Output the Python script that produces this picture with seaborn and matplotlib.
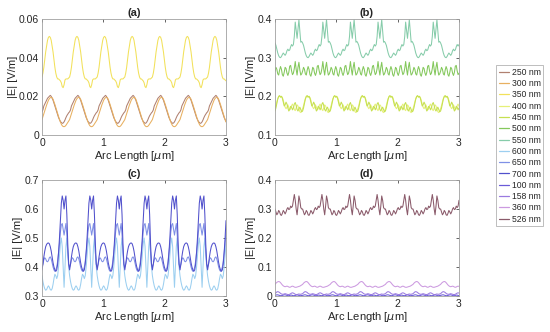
import numpy as np
import pandas as pd
import matplotlib
matplotlib.use("Agg")
import matplotlib.pyplot as plt
import seaborn as sns
from matplotlib.lines import Line2D

sns.set_theme(style="white")
plt.rcParams['font.family'] = ['Liberation Sans', 'DejaVu Sans']

# ---- data: one spatial period (0.45 um, step 0.015 um) per wavelength ----
dx = 0.015
n_points = 201  # 0 .. 3.0 um

labels = ["250 nm", "300 nm", "350 nm", "400 nm", "450 nm", "500 nm", "550 nm",
          "600 nm", "650 nm", "700 nm", "100 nm", "158 nm", "360 nm", "526 nm"]
colors = ["#b08070", "#e8b060", "#f2e15a", "#e6f078", "#c6e050", "#84c85c", "#86ccaa",
          "#9ccff0", "#7f90e6", "#5050cc", "#6a5ad8", "#9a7ae0", "#cc9ae0", "#8a5a6a"]
panel_of = ["a", "a", "a", "b", "b", "b", "b", "c", "c", "c", "d", "d", "d", "d"]

p250 = [0.012, 0.013, 0.015, 0.016, 0.017, 0.018, 0.019, 0.0195, 0.020, 0.0205, 0.020, 0.019,
        0.018, 0.0165, 0.015, 0.0135, 0.012, 0.0105, 0.009, 0.008, 0.007, 0.0065, 0.006, 0.0062,
        0.0068, 0.0078, 0.009, 0.010, 0.0108, 0.0115]
p300 = [0.008, 0.0095, 0.011, 0.0125, 0.014, 0.0155, 0.0168, 0.018, 0.0188, 0.0193, 0.0195, 0.0193,
        0.0185, 0.0172, 0.0158, 0.0142, 0.0126, 0.011, 0.0094, 0.008, 0.0067, 0.0056, 0.0048, 0.0044,
        0.0043, 0.0045, 0.0050, 0.0057, 0.0064, 0.0072]
p350 = [0.030, 0.032, 0.035, 0.039, 0.043, 0.046, 0.049, 0.0505, 0.051, 0.0505, 0.049, 0.046,
        0.043, 0.039, 0.035, 0.032, 0.030, 0.029, 0.029, 0.0285, 0.028, 0.027, 0.025, 0.0245,
        0.026, 0.0285, 0.029, 0.029, 0.029, 0.0295]
p400 = [0.168, 0.176, 0.186, 0.194, 0.199, 0.200, 0.198, 0.200, 0.197, 0.190, 0.180, 0.172,
        0.168, 0.172, 0.178, 0.172, 0.165, 0.168, 0.176, 0.180, 0.174, 0.166, 0.163, 0.170,
        0.178, 0.175, 0.168, 0.160, 0.158, 0.162]
p450 = [0.162, 0.170, 0.182, 0.193, 0.200, 0.202, 0.198, 0.200, 0.195, 0.185, 0.175, 0.178,
        0.185, 0.180, 0.170, 0.162, 0.166, 0.174, 0.172, 0.165, 0.170, 0.180, 0.184, 0.176,
        0.166, 0.162, 0.168, 0.172, 0.166, 0.160]
p500 = [0.265, 0.275, 0.270, 0.258, 0.255, 0.268, 0.277, 0.270, 0.256, 0.252, 0.262, 0.275,
        0.272, 0.260, 0.254, 0.262, 0.278, 0.280, 0.266, 0.256, 0.260, 0.272, 0.290, 0.270,
        0.255, 0.275, 0.288, 0.268, 0.255, 0.258]
p550 = [0.338, 0.332, 0.322, 0.312, 0.305, 0.301, 0.300, 0.303, 0.308, 0.312, 0.309, 0.306,
        0.310, 0.318, 0.322, 0.318, 0.320, 0.328, 0.334, 0.330, 0.334, 0.355, 0.392, 0.372,
        0.350, 0.375, 0.398, 0.368, 0.340, 0.342]
p600 = [0.370, 0.350, 0.335, 0.325, 0.320, 0.322, 0.330, 0.335, 0.330, 0.322, 0.320, 0.325,
        0.340, 0.360, 0.375, 0.370, 0.360, 0.370, 0.400, 0.440, 0.480, 0.500, 0.470, 0.400,
        0.330, 0.400, 0.470, 0.500, 0.450, 0.400]
p650 = [0.400, 0.410, 0.425, 0.432, 0.428, 0.420, 0.418, 0.422, 0.432, 0.435, 0.428, 0.415,
        0.400, 0.390, 0.385, 0.390, 0.400, 0.420, 0.450, 0.480, 0.520, 0.545, 0.550, 0.530,
        0.510, 0.530, 0.550, 0.510, 0.450, 0.410]
p700 = [0.390, 0.410, 0.435, 0.455, 0.470, 0.478, 0.482, 0.483, 0.480, 0.470, 0.455, 0.435,
        0.415, 0.400, 0.390, 0.385, 0.390, 0.410, 0.450, 0.500, 0.560, 0.620, 0.645, 0.630,
        0.600, 0.630, 0.645, 0.580, 0.480, 0.410]
p100 = [0.002, 0.003, 0.004, 0.004, 0.003, 0.002, 0.001, 0.001, 0.002, 0.003, 0.004, 0.004,
        0.003, 0.002, 0.001, 0.001, 0.002, 0.003, 0.003, 0.002, 0.001, 0.001, 0.002, 0.003,
        0.004, 0.003, 0.002, 0.001, 0.001, 0.002]
p158 = [0.008, 0.011, 0.014, 0.015, 0.014, 0.012, 0.009, 0.007, 0.006, 0.006, 0.007, 0.008,
        0.007, 0.006, 0.005, 0.005, 0.006, 0.008, 0.010, 0.011, 0.010, 0.008, 0.006, 0.005,
        0.005, 0.006, 0.007, 0.006, 0.006, 0.007]
p360 = [0.040, 0.044, 0.047, 0.049, 0.050, 0.049, 0.046, 0.042, 0.038, 0.035, 0.033, 0.032,
        0.033, 0.034, 0.033, 0.031, 0.030, 0.031, 0.033, 0.034, 0.033, 0.031, 0.030, 0.030,
        0.031, 0.032, 0.033, 0.034, 0.036, 0.038]
p526 = [0.300, 0.290, 0.280, 0.285, 0.295, 0.290, 0.280, 0.278, 0.285, 0.295, 0.290, 0.283,
        0.290, 0.300, 0.305, 0.298, 0.300, 0.310, 0.305, 0.310, 0.330, 0.350, 0.330, 0.300,
        0.280, 0.310, 0.345, 0.330, 0.305, 0.300]

periods = [p250, p300, p350, p400, p450, p500, p550, p600, p650, p700, p100, p158, p360, p526]

# build long table
x = np.arange(n_points) * dx
rows = []
for lab, per, pan in zip(labels, periods, panel_of):
    y = np.tile(per, int(np.ceil(n_points / len(per))))[:n_points]
    rows.append(pd.DataFrame({"x": x, "E": y, "label": lab, "panel": pan}))
df = pd.concat(rows, ignore_index=True)
palette = dict(zip(labels, colors))

fig = plt.figure(figsize=(5.5, 3.32), dpi=100)
W, H = 550, 332
boxes = {"a": (42, 19), "b": (275, 19), "c": (42, 180), "d": (275, 180)}
ylims = {"a": (0, 0.06), "b": (0.1, 0.4), "c": (0.3, 0.7), "d": (0, 0.4)}
yticks = {"a": [0, 0.02, 0.04, 0.06], "b": [0.1, 0.2, 0.3, 0.4],
          "c": [0.3, 0.4, 0.5, 0.6, 0.7], "d": [0, 0.1, 0.2, 0.3, 0.4]}
yticklabels = {"a": ["0", "0.02", "0.04", "0.06"], "b": ["0.1", "0.2", "0.3", "0.4"],
               "c": ["0.3", "0.4", "0.5", "0.6", "0.7"], "d": ["0", "0.1", "0.2", "0.3", "0.4"]}

for pan, (lx, ty) in boxes.items():
    ax = fig.add_axes([lx / W, 1 - (ty + 116) / H, 184 / W, 116 / H])
    sub = df[df["panel"] == pan]
    sns.lineplot(data=sub, x="x", y="E", hue="label", palette=palette, ax=ax,
                 estimator=None, sort=False, linewidth=0.75, legend=False)
    ax.set_xlim(0, 3)
    ax.set_ylim(*ylims[pan])
    ax.set_xticks([0, 1, 2, 3])
    ax.set_xticklabels(["0", "1", "2", "3"])
    ax.set_yticks(yticks[pan])
    ax.set_yticklabels(yticklabels[pan])
    ax.tick_params(direction="in", length=2.5, width=0.5, labelsize=7.5,
                   colors="#262626", top=True, right=True, pad=2)
    for s in ax.spines.values():
        s.set_color("#a0a0a0")
        s.set_linewidth(0.6)
    ax.set_xlabel("Arc Length [$\\mu$m]", fontsize=8, color="#262626", labelpad=1)
    ax.set_ylabel("|E| [V/m]", fontsize=8, color="#262626", labelpad=1)
    ax.set_title(f"({pan})", fontsize=8, fontweight="bold", color="#262626", pad=2)

handles = [Line2D([0], [0], color=c, lw=0.9) for c in colors]
leg = fig.legend(handles, labels, loc="upper left", bbox_to_anchor=(496 / W, 1 - 65 / H),
                 fontsize=6.2, frameon=True, handlelength=1.25, handletextpad=0.25,
                 labelspacing=0.27, borderpad=0.3, borderaxespad=0, fancybox=False)
leg.get_frame().set_edgecolor("#a0a0a0")
leg.get_frame().set_linewidth(0.6)
for t in leg.get_texts():
    t.set_color("#262626")

fig.savefig("out.png", dpi=100)
